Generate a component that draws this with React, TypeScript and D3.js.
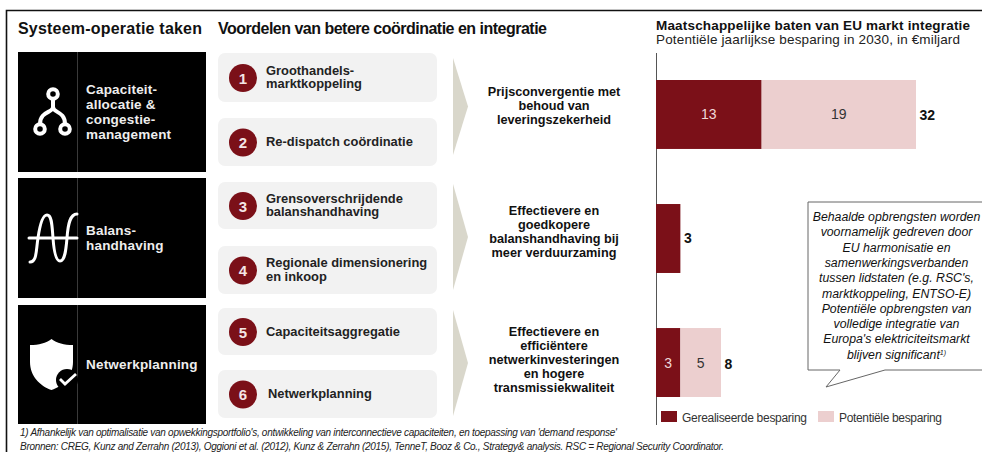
import * as d3 from "d3";

const regions = ["Prijsconvergentie", "Balanshandhaving", "Netwerk"];
const realised = [13, 3, 3];
const potential = [19, 0, 5];
const totals = [32, 3, 8];

const legendLabels = ["Gerealiseerde  besparing", "Potentiële besparing"];

const taskLines = [
  ["Capaciteit-", "allocatie &", "congestie-", "management"],
  ["Balans-", "handhaving"],
  ["Netwerkplanning"],
];
const benefitLines = [
  ["Groothandels-", "marktkoppeling"],
  ["Re-dispatch coördinatie"],
  ["Grensoverschrijdende", "balanshandhaving"],
  ["Regionale dimensionering", "en inkoop"],
  ["Capaciteitsaggregatie"],
  ["Netwerkplanning"],
];
const outcomeLines = [
  ["Prijsconvergentie met", "behoud van", "leveringszekerheid"],
  ["Effectievere en", "goedkopere", "balanshandhaving bij", "meer verduurzaming"],
  ["Effectievere en", "efficiëntere", "netwerkinvesteringen", "en hogere", "transmissiekwaliteit"],
];
const calloutLines = [
  "Behaalde opbrengsten worden",
  "voornamelijk gedreven door",
  "EU harmonisatie en",
  "samenwerkingsverbanden",
  "tussen lidstaten (e.g. RSC's,",
  "marktkoppeling, ENTSO-E)",
  "Potentiële opbrengsten van",
  "volledige integratie van",
  "Europa's elektriciteitsmarkt",
];

const taskBoxes = [[52, 172], [178, 298], [305, 424]];
const benefitBoxes = [[53, 102], [118, 166], [182, 229], [246, 294], [308, 355], [370, 418]];
const chevrons = [[58, 155], [184, 290], [310, 416]];
const outcomeCenters = [110, 236, 364];

const DARK = "#7b1018";
const LIGHT = "#eccfcf";
const FONT = "'Liberation Sans', Arial, sans-serif";

const x = d3.scaleLinear().domain([0, 32]).range([656, 916]);
const y = d3.scaleBand<string>().domain(regions).range([80, 397]).paddingInner(0.444);

const Lines = ({ lines, px, cy, lh, ...rest }: any) => (
  <text x={px} {...rest}>
    {lines.map((l: string, i: number) => (
      <tspan key={i} x={px} y={cy + (i - (lines.length - 1) / 2) * lh}>
        {l}
      </tspan>
    ))}
  </text>
);

const TreeIcon = () => (
  <g fill="none" stroke="#fff" strokeWidth="4">
    <circle cx="53" cy="94" r="4.8" />
    <circle cx="40" cy="129" r="4.8" />
    <circle cx="65" cy="129" r="4.8" />
    <path d="M53,99V107C53,113 40,111 40,124M53,107C53,113 65,111 65,124" />
  </g>
);

const WaveIcon = () => (
  <g fill="none" stroke="#fff" strokeWidth="3" strokeLinecap="round">
    <path d="M29,238H77" />
    <path d="M30,262C37,262 36,250 38,238C40,224 43,215 47,215C52,215 52,226 53,238C54,252 56,261 60,261C65,261 66,250 67,238C68,224 70,214 77,214" />
  </g>
);

const ShieldIcon = () => (
  <g>
    <path d="M51.5,339C57,343 64,345 73,345V362C73,376 63,386 51.5,390C40,386 30,376 30,362V345C39,345 46,343 51.5,339Z" fill="#fff" />
    <circle cx="67" cy="380" r="11" fill="#000" />
    <path d="M60,379L65,384L76,374" fill="none" stroke="#fff" strokeWidth="2.8" />
  </g>
);

const icons = [<TreeIcon />, <WaveIcon />, <ShieldIcon />];

export default function App() {
  return (
    <svg
      width={982}
      height={452}
      style={{ position: "absolute", left: 0, top: 0, background: "#fff" }}
      fontFamily={FONT}
    >
      <path d="M6.5,452V10.5H982" fill="none" stroke="#111" strokeWidth="1.6" />

      <text x={18} y={34} fontSize={16} fontWeight="bold" fill="#111" textLength={184}>
        Systeem-operatie taken
      </text>
      <text x={218} y={34} fontSize={16} fontWeight="bold" fill="#111" textLength={329}>
        Voordelen van betere coördinatie en integratie
      </text>
      <text x={656} y={30} fontSize={13.5} fontWeight="bold" fill="#111" textLength={314}>
        Maatschappelijke baten van EU markt integratie
      </text>
      <text x={656} y={44} fontSize={13.5} fill="#222" textLength={304}>
        Potentiële jaarlijkse besparing in 2030, in €miljard
      </text>

      {taskBoxes.map(([t, b], i) => (
        <g key={i}>
          <rect x={18} y={t} width={188} height={b - t} fill="#000" />
          <line x1={77.5} x2={77.5} y1={t} y2={b} stroke="#3a3a3a" />
          {icons[i]}
          <Lines
            lines={taskLines[i]}
            px={86}
            cy={(t + b) / 2 + 4.5}
            lh={14.7}
            fontSize={13.5}
            letterSpacing={0.2}
            fontWeight="bold"
            fill="#eee"
          />
        </g>
      ))}

      {benefitBoxes.map(([t, b], i) => (
        <g key={i}>
          <rect x={218} y={t} width={219} height={b - t} rx={7} fill="#f2f2f2" />
          <circle cx={243} cy={(t + b) / 2 + 0.5} r={14} fill={DARK} />
          <text
            x={243}
            y={(t + b) / 2 + 6}
            textAnchor="middle"
            fontSize={15}
            fontWeight="bold"
            fill="#f4e6e6"
          >
            {i + 1}
          </text>
          <Lines
            lines={benefitLines[i]}
            px={i === 5 ? 268 : 266}
            cy={(t + b) / 2 + 4}
            lh={13.5}
            fontSize={12.9}
            fontWeight="bold"
            fill="#222"
          />
        </g>
      ))}

      {chevrons.map(([t, b], i) => (
        <path key={i} d={`M453,${t}L468,${(t + b) / 2}L453,${b}Z`} fill="#d9d7cb" />
      ))}

      {outcomeLines.map((lines, i) => (
        <Lines
          key={i}
          lines={lines}
          px={554}
          cy={outcomeCenters[i]}
          lh={14}
          textAnchor="middle"
          fontSize={12.7}
          fontWeight="bold"
          fill="#111"
        />
      ))}

      <line x1={656.5} x2={656.5} y1={53} y2={425} stroke="#555" />

      {regions.map((r, i) => {
        const top = y(r)!;
        const h = y.bandwidth();
        const cy = top + h / 2 + 5;
        const mid = x(realised[i]);
        const end = x(realised[i] + potential[i]);
        return (
          <g key={r} fontSize={14}>
            <rect x={x(0)} y={top} width={mid - x(0)} height={h} fill={DARK} />
            {potential[i] > 0 && (
              <>
                <rect x={mid} y={top} width={end - mid} height={h} fill={LIGHT} />
                <text x={(x(0) + mid) / 2} y={cy} textAnchor="middle" fill="#f0d8d8">
                  {realised[i]}
                </text>
                <text x={(mid + end) / 2} y={cy} textAnchor="middle" fill="#333">
                  {potential[i]}
                </text>
              </>
            )}
            <text x={end + 3.5} y={cy + (i === 1 ? -1 : 1)} fontWeight="bold" fill="#111">
              {totals[i]}
            </text>
          </g>
        );
      })}

      <rect x={661} y={411} width={16} height={11} fill={DARK} />
      <text x={682} y={422} fontSize={12} fill="#333" textLength={125}>
        {legendLabels[0]}
      </text>
      <rect x={818} y={411} width={16} height={11} fill={LIGHT} />
      <text x={839} y={422} fontSize={12} fill="#333" textLength={103}>
        {legendLabels[1]}
      </text>

      <path
        d="M990,202H808V370H840L826,387L885,370H990"
        fill="#fff"
        stroke="#666"
        strokeWidth="1"
      />
      <g fontSize={12.3} fontStyle="italic" fill="#111" textAnchor="middle">
        {calloutLines.map((l, i) => (
          <text key={i} x={896.5} y={221 + i * 15.3}>
            {l}
          </text>
        ))}
        <text x={896.5} y={358.7}>
          blijven significant
          <tspan fontSize={7} dy={-4}>
            1)
          </tspan>
        </text>
      </g>

      <g fontSize={10} fontStyle="italic" fill="#222">
        <text x={20} y={436} textLength={597}>
          1) Afhankelijk van optimalisatie van opwekkingsportfolio's, ontwikkeling van interconnectieve capaciteiten, en toepassing van 'demand response'
        </text>
        <text x={20} y={450} textLength={704}>
          Bronnen: CREG, Kunz and Zerrahn (2013), Oggioni et al. (2012), Kunz &amp; Zerrahn (2015), TenneT, Booz &amp; Co., Strategy&amp; analysis. RSC = Regional Security Coordinator.
        </text>
      </g>
    </svg>
  );
}
